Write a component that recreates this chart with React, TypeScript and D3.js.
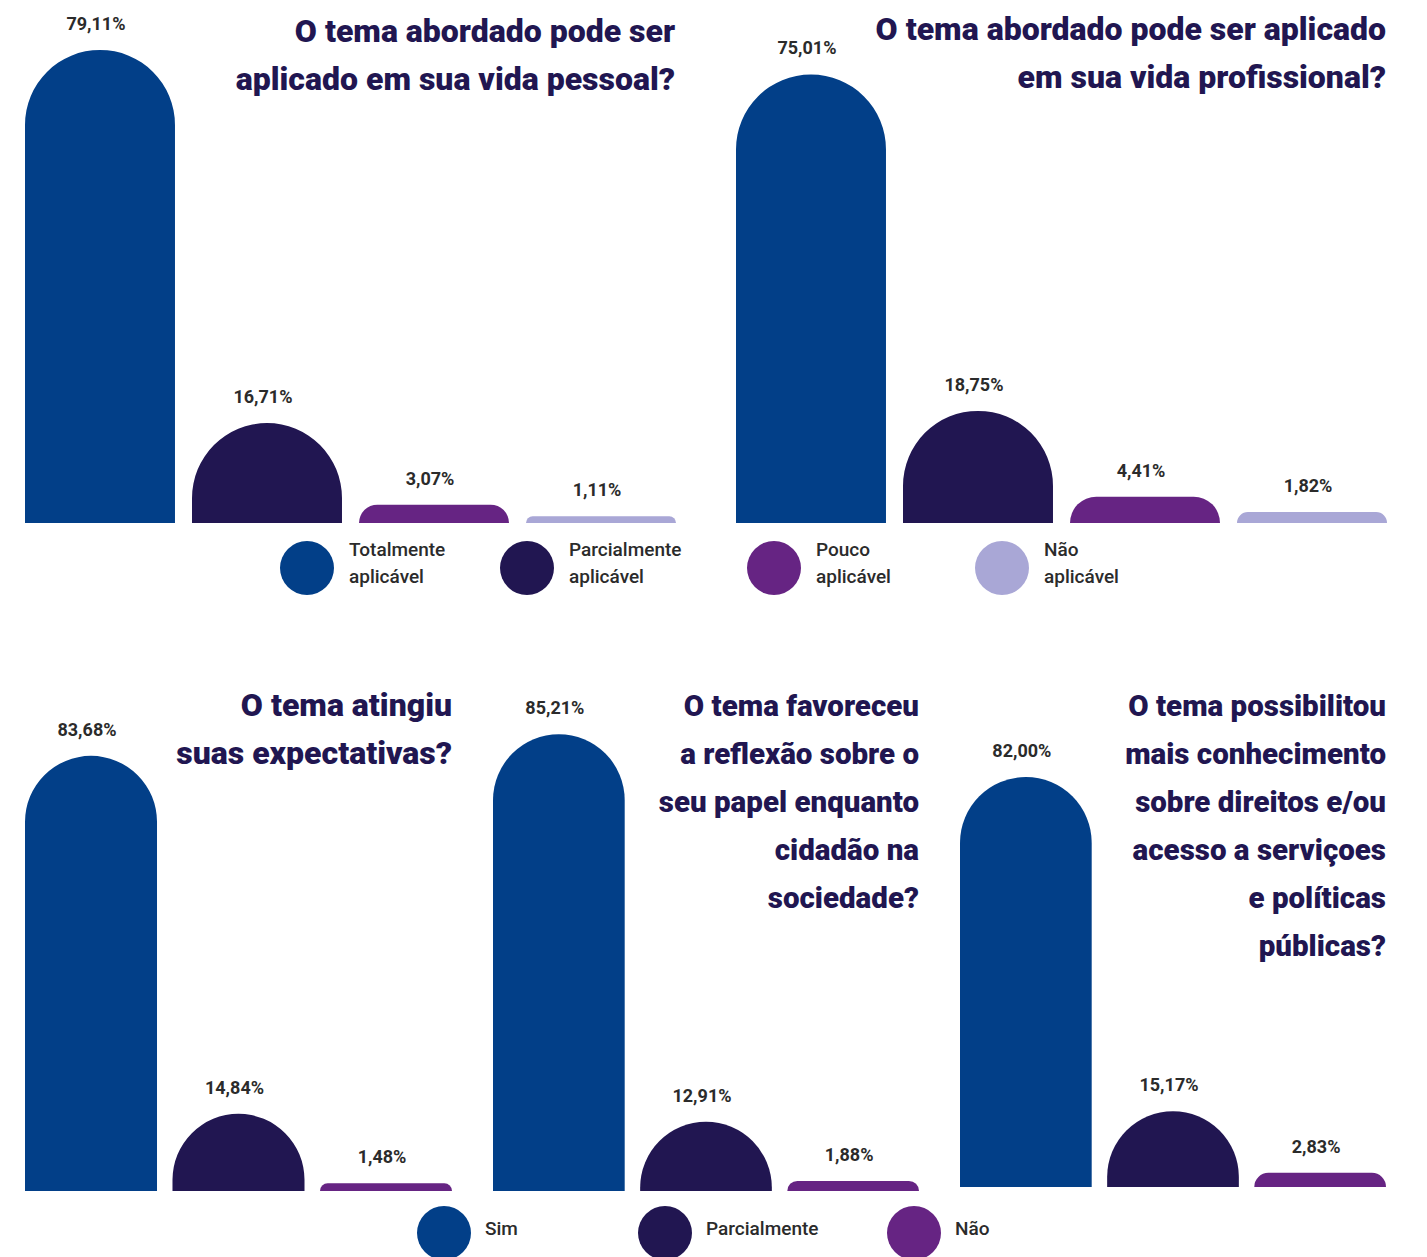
import React from 'react';
import * as d3 from 'd3';

// answer categories
const topCategories = ['Totalmente aplicável', 'Parcialmente aplicável', 'Pouco aplicável', 'Não aplicável'];
const bottomCategories = ['Sim', 'Parcialmente', 'Não'];

// percentages per question
const pessoalValues = [79.11, 16.71, 3.07, 1.11];
const profissionalValues = [75.01, 18.75, 4.41, 1.82];
const expectativasValues = [83.68, 14.84, 1.48];
const reflexaoValues = [85.21, 12.91, 1.88];
const direitosValues = [82.0, 15.17, 2.83];

// question titles, one entry per line
const pessoalTitle = ['O tema abordado pode ser', 'aplicado em sua vida pessoal?'];
const profissionalTitle = ['O tema abordado pode ser aplicado', 'em sua vida profissional?'];
const expectativasTitle = ['O tema atingiu', 'suas expectativas?'];
const reflexaoTitle = ['O tema favoreceu', 'a reflexão sobre o', 'seu papel enquanto', 'cidadão na', 'sociedade?'];
const direitosTitle = ['O tema possibilitou', 'mais conhecimento', 'sobre direitos e/ou', 'acesso a serviçoes', 'e políticas', 'públicas?'];

const COLORS = ['#023f88', '#211651', '#662483', '#a9a7d6'];
const TITLE_COLOR = '#211651';
const LABEL_COLOR = '#2b2b2b';

const ptBR = d3.formatLocale({ decimal: ',', thousands: '.', grouping: [3], currency: ['R$', ''] });
const fmt = ptBR.format('.2f');

interface Panel {
  categories: string[];
  values: number[];
  title: string[];
  x0: number;
  x1: number;
  base: number;
  pxPerPct: number;
  titleRight: number;
  titleTop: number;
  titleSize: number;
}

const panels: Panel[] = [
  { categories: topCategories, values: pessoalValues, title: pessoalTitle, x0: 25, x1: 676, base: 523, pxPerPct: 5.98, titleRight: 675, titleTop: 42, titleSize: 32 },
  { categories: topCategories, values: profissionalValues, title: profissionalTitle, x0: 736, x1: 1387, base: 523, pxPerPct: 5.98, titleRight: 1386, titleTop: 40, titleSize: 32 },
  { categories: bottomCategories, values: expectativasValues, title: expectativasTitle, x0: 25, x1: 452, base: 1191, pxPerPct: 5.2, titleRight: 452, titleTop: 716, titleSize: 32 },
  { categories: bottomCategories, values: reflexaoValues, title: reflexaoTitle, x0: 493, x1: 919, base: 1191, pxPerPct: 5.36, titleRight: 919, titleTop: 716, titleSize: 29.5 },
  { categories: bottomCategories, values: direitosValues, title: direitosTitle, x0: 960, x1: 1386, base: 1187, pxPerPct: 5.0, titleRight: 1386, titleTop: 716, titleSize: 29.5 },
];

function barPath(x: number, top: number, w: number, base: number) {
  const h = base - top;
  const r = Math.min(w / 2, h);
  const p = d3.path();
  p.moveTo(x, base);
  p.lineTo(x, top + r);
  p.arcTo(x, top, x + r, top, r);
  p.lineTo(x + w - r, top);
  p.arcTo(x + w, top, x + w, top + r, r);
  p.lineTo(x + w, base);
  p.closePath();
  return p.toString();
}

const BarPanel: React.FC<{ panel: Panel }> = ({ panel }) => {
  const x = d3.scaleBand<string>()
    .domain(panel.categories)
    .range([panel.x0, panel.x1])
    .paddingInner(panel.categories.length === 4 ? 0.102 : 0.105);
  const y = d3.scaleLinear()
    .domain([0, 100])
    .range([panel.base, panel.base - panel.pxPerPct * 100]);

  return (
    <g>
      {panel.values.map((v, i) => {
        const cat = panel.categories[i];
        const bx = x(cat) as number;
        const top = y(v);
        return (
          <g key={cat}>
            <path d={barPath(bx, top, x.bandwidth(), panel.base)} fill={COLORS[i]} />
            <text
              x={bx + x.bandwidth() / 2 - 4}
              y={top - 20}
              textAnchor="middle"
              fontSize={18}
              fontWeight={700}
              fill={LABEL_COLOR}
            >
              {fmt(v)}%
            </text>
          </g>
        );
      })}
      {panel.title.map((line, i) => (
        <text
          key={i}
          x={panel.titleRight}
          y={panel.titleTop + i * 48}
          textAnchor="end"
          fontSize={panel.titleSize}
          fontWeight={900}
          fill={TITLE_COLOR}
        >
          {line}
        </text>
      ))}
    </g>
  );
};

// legend placement
const topLegendX = [307, 527, 774, 1002];
const bottomLegendX = [444, 665, 914];

const App: React.FC = () => {
  return (
    <div style={{ position: 'absolute', left: 0, top: 0 }}>
      <svg width={1427} height={1257} style={{ display: 'block', fontFamily: 'Roboto, "Noto Sans", sans-serif' }}>
        <rect width={1427} height={1257} fill="#fff" />
        {panels.map((p, i) => <BarPanel key={i} panel={p} />)}

        {topCategories.map((c, i) => {
          const [l1, l2] = c.split(' ');
          return (
            <g key={c}>
              <circle cx={topLegendX[i]} cy={568} r={27} fill={COLORS[i]} />
              <text x={topLegendX[i] + 42} y={556} fontSize={19} fontWeight={500} fill={LABEL_COLOR}>{l1}</text>
              <text x={topLegendX[i] + 42} y={583} fontSize={19} fontWeight={500} fill={LABEL_COLOR}>{l2}</text>
            </g>
          );
        })}

        {bottomCategories.map((c, i) => (
          <g key={c}>
            <circle cx={bottomLegendX[i]} cy={1233} r={27} fill={COLORS[i]} />
            <text x={bottomLegendX[i] + 41} y={1235} fontSize={19} fontWeight={500} fill={LABEL_COLOR}>{c}</text>
          </g>
        ))}
      </svg>
    </div>
  );
};

export default App;
